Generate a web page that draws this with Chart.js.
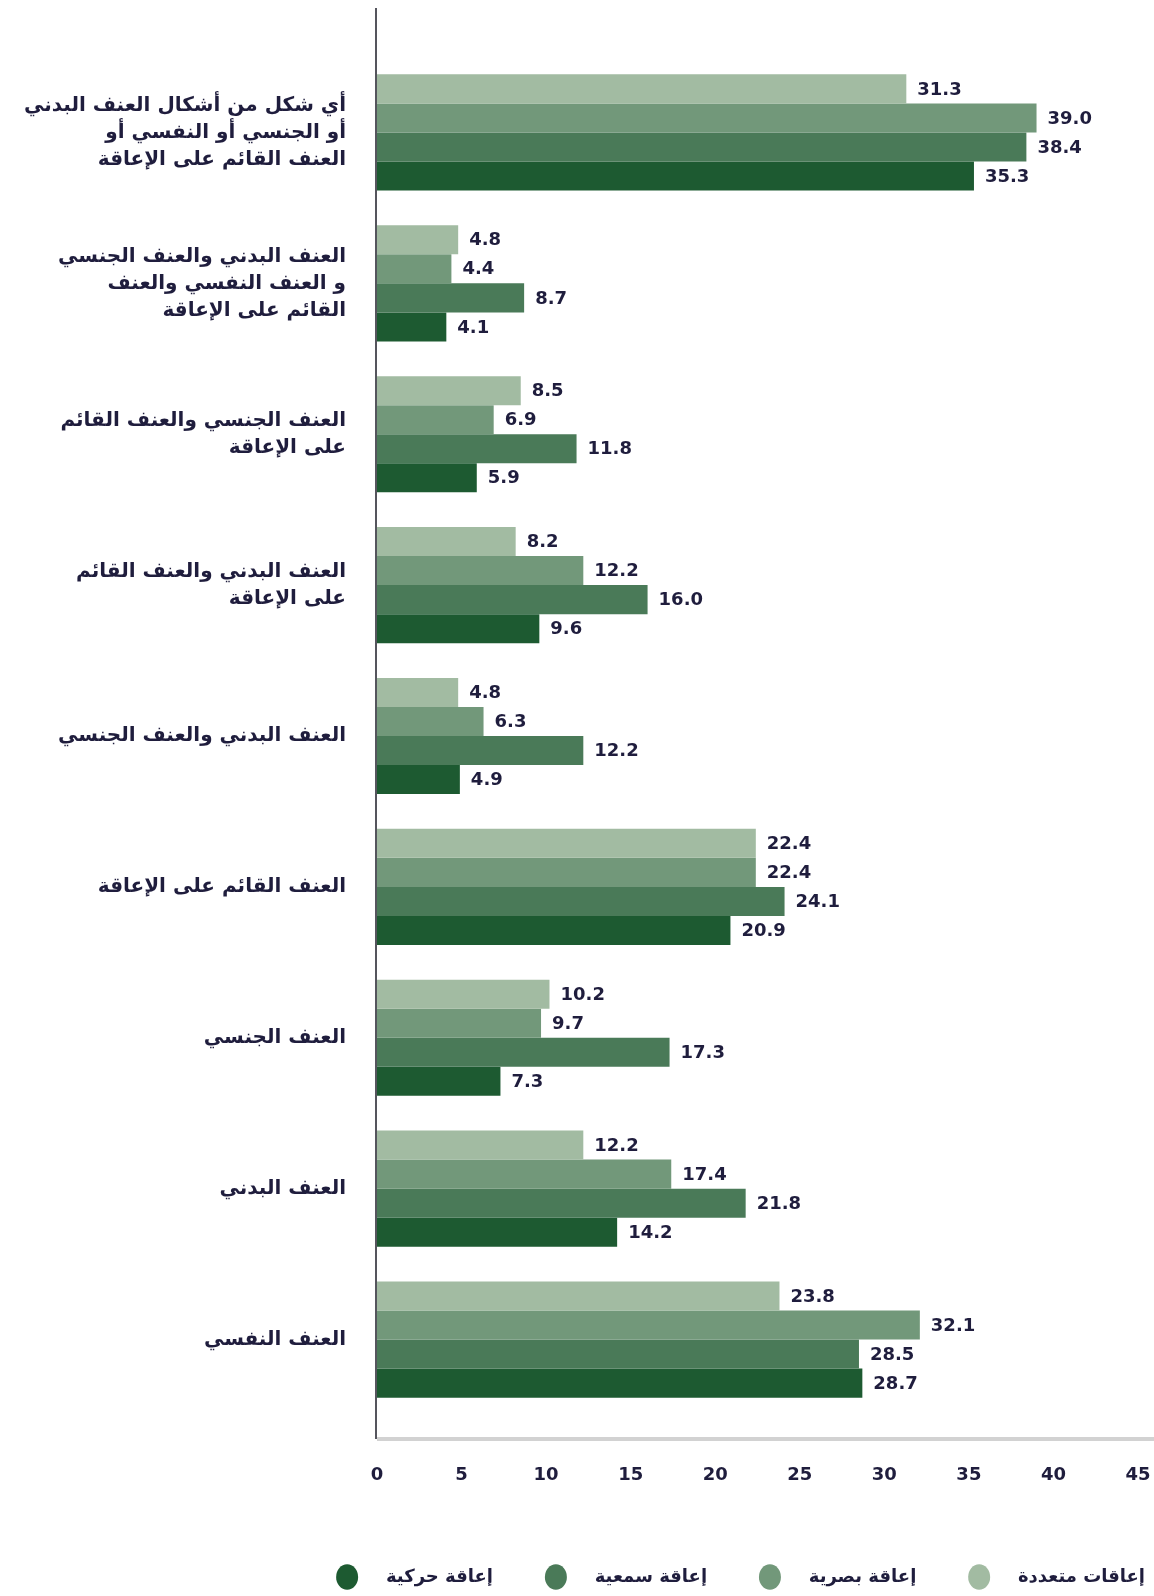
<!DOCTYPE html>
<html lang="ar">
<head>
<meta charset="utf-8">
<title>العنف حسب نوع الإعاقة</title>
<script src="https://cdn.jsdelivr.net/npm/chart.js@4.4.1/dist/chart.umd.min.js"></script>
<style>
    html, body { margin: 0; padding: 0; background: #ffffff; }
    .chart-container { position: relative; width: 1154px; height: 1596px; }
</style>
</head>
<body>
<div class="chart-container">
    <canvas id="chart"></canvas>
</div>
<script>
// categories, top to bottom (multi-line labels as arrays)
const categories = [
    ['أي شكل من أشكال العنف البدني', 'أو الجنسي أو النفسي أو', 'العنف القائم على الإعاقة'],
    ['العنف البدني والعنف الجنسي', 'و العنف النفسي والعنف', 'القائم على الإعاقة'],
    ['العنف الجنسي والعنف القائم', 'على الإعاقة'],
    ['العنف البدني والعنف القائم', 'على الإعاقة'],
    'العنف البدني والعنف الجنسي',
    'العنف القائم على الإعاقة',
    'العنف الجنسي',
    'العنف البدني',
    'العنف النفسي',
];

// series, in the order they appear inside each group (top to bottom)
const seriesNames = ['إعاقات متعددة', 'إعاقة بصرية', 'إعاقة سمعية', 'إعاقة حركية'];
const multiple = [31.3, 4.8, 8.5, 8.2, 4.8, 22.4, 10.2, 12.2, 23.8];
const visual   = [39.0, 4.4, 6.9, 12.2, 6.3, 22.4, 9.7, 17.4, 32.1];
const hearing  = [38.4, 8.7, 11.8, 16.0, 12.2, 24.1, 17.3, 21.8, 28.5];
const motor    = [35.3, 4.1, 5.9, 9.6, 4.9, 20.9, 7.3, 14.2, 28.7];

const xTicks = [0, 5, 10, 15, 20, 25, 30, 35, 40, 45];

const colors = ['#a2bba2', '#72987a', '#4a7a58', '#1d5a31'];
const textColor = '#1f1d3d';
const fontFamily = '"DejaVu Sans", "Noto Sans", sans-serif';

// value labels at the end of each bar
const valueLabels = {
    id: 'valueLabels',
    afterDatasetsDraw(chart) {
        const ctx = chart.ctx;
        ctx.save();
        ctx.fillStyle = textColor;
        ctx.font = 'bold 18px ' + fontFamily;
        ctx.textAlign = 'left';
        ctx.textBaseline = 'middle';
        chart.data.datasets.forEach((ds, i) => {
            chart.getDatasetMeta(i).data.forEach((bar, j) => {
                ctx.fillText(ds.data[j].toFixed(1), bar.x + 11, bar.y + 1);
            });
        });
        ctx.restore();
    }
};

// long axis line on the left and shaded base line at the bottom
const axisLines = {
    id: 'axisLines',
    beforeDatasetsDraw(chart) {
        const { ctx, chartArea } = chart;
        ctx.save();
        ctx.strokeStyle = '#d2d2d2';
        ctx.lineWidth = 4;
        ctx.beginPath();
        ctx.moveTo(chartArea.left, chartArea.bottom + 24);
        ctx.lineTo(chart.width, chartArea.bottom + 24);
        ctx.stroke();
        ctx.strokeStyle = '#55555d';
        ctx.lineWidth = 2;
        ctx.beginPath();
        ctx.moveTo(chartArea.left - 1, chartArea.top - 49);
        ctx.lineTo(chartArea.left - 1, chartArea.bottom + 24);
        ctx.stroke();
        ctx.restore();
    }
};

const datasets = [multiple, visual, hearing, motor].map((values, i) => ({
    label: seriesNames[i],
    data: values,
    backgroundColor: colors[i],
    hoverBackgroundColor: colors[i],
    borderWidth: 0,
    barPercentage: 1.0,
    categoryPercentage: 0.77,
}));

new Chart(document.getElementById('chart').getContext('2d'), {
    type: 'bar',
    data: { labels: categories, datasets: datasets },
    plugins: [axisLines, valueLabels],
    options: {
        indexAxis: 'y',
        responsive: true,
        maintainAspectRatio: false,
        animation: false,
        layout: { padding: { top: 57, right: 1, left: 0, bottom: 0 } },
        plugins: {
            legend: {
                position: 'bottom',
                align: 'end',
                reverse: true,
                labels: {
                    usePointStyle: true,
                    pointStyle: 'circle',
                    pointStyleWidth: 22,
                    boxHeight: 18,
                    padding: 8,
                    color: textColor,
                    font: { family: fontFamily, size: 18, weight: 'bold' },
                    // spaces keep the gap between dot, text and the next item
                    generateLabels: (chart) => {
                        const items = Chart.defaults.plugins.legend.labels.generateLabels(chart);
                        items.forEach((item) => {
                            item.text = '   ' + item.text + (item.datasetIndex > 0 ? '       ' : '');
                        });
                        return items;
                    },
                },
            },
            tooltip: { enabled: false },
        },
        scales: {
            x: {
                min: 0,
                max: 45,
                afterBuildTicks: (scale) => {
                    scale.ticks = xTicks.map((v) => ({ value: v }));
                },
                grid: { display: false, drawTicks: false },
                border: { display: false },
                ticks: {
                    padding: 50,
                    color: textColor,
                    font: { family: fontFamily, size: 18, weight: 'bold' },
                },
                afterFit: (scale) => {
                    scale.height = 145;
                    scale.paddingLeft = 0;
                    scale.paddingRight = 16;
                },
            },
            y: {
                grid: { display: false, drawTicks: false },
                border: { display: false },
                ticks: {
                    padding: 31,
                    color: textColor,
                    autoSkip: false,
                    font: { family: fontFamily, size: 20, weight: 'bold', lineHeight: 1.35 },
                },
                afterFit: (scale) => {
                    scale.width = 377;
                    scale.paddingTop = 0;
                    scale.paddingBottom = 0;
                },
            },
        },
    },
});
</script>
</body>
</html>
